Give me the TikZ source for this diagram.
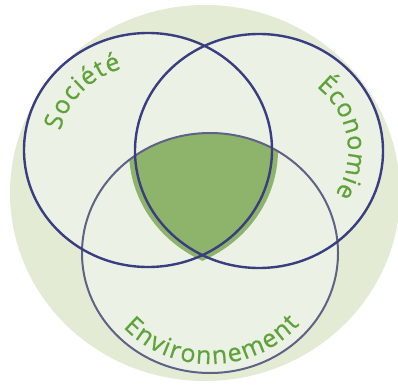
\documentclass[tikz,border=0pt]{standalone}
\usepackage{fontspec}
\setmainfont{Open Sans}
\newfontfamily\labelface[FakeBold=0.6]{Open Sans}
\usepackage{tikz}
\usetikzlibrary{calc, decorations.text}

\definecolor{sageback}{RGB}{227,235,213}
\definecolor{sagelight}{RGB}{236,241,229}
\definecolor{leafgreen}{RGB}{141,180,106}
\definecolor{labelgreen}{RGB}{96,162,58}
\definecolor{ringblue}{RGB}{58,62,128}
\definecolor{ringgrey}{RGB}{94,98,132}

\newcommand{\labelfont}{\labelface\fontsize{25}{30}\selectfont\color{labelgreen}}
% text bent along an elliptic arc: centre, start, end, x radius, y radius, text
\newcommand{\ArcLabel}[6]{
	\path[decorate, decoration={text along path, text align={fit to path}, text={|\labelfont|#6}}]
		($(#1)+(#2:#4 and #5)$) arc[start angle=#2, end angle=#3, x radius=#4, y radius=#5];
}

\begin{document}
\begin{tikzpicture}[x=1pt, y=1pt,
		ring/.style={line width=2.4pt, draw=ringblue},
		envring/.style={line width=2pt, draw=ringgrey}
	]

	\useasboundingbox (0,0) rectangle (398,386);

	\coordinate (O) at (205,193);
	\coordinate (S) at (148,236);
	\coordinate (C) at (259,235);
	\coordinate (E) at (210,133);

	% background disc
	\fill[sageback] (O) ellipse[x radius=195, y radius=188];
	\fill[sagelight] (S) ellipse[x radius=124, y radius=117];
	\fill[sagelight] (C) ellipse[x radius=124, y radius=117];
	\fill[sagelight] (E) ellipse[x radius=128, y radius=120];

	% common part of the three circles
	\begin{scope}
		\clip (E) ellipse[x radius=128, y radius=120];
		\clip (S) ellipse[x radius=130, y radius=122];
		\fill[leafgreen] (C) ellipse[x radius=130, y radius=122];
	\end{scope}

	\draw[envring] (E) ellipse[x radius=128, y radius=120];
	\draw[ring] (S) ellipse[x radius=124, y radius=117];
	\draw[ring] (C) ellipse[x radius=124, y radius=117];

	\ArcLabel{S}{167}{107}{90}{85}{Société}
	\ArcLabel{C}{50}{-31}{89}{84}{Économie}
	\ArcLabel{E}{222}{320}{117}{111}{Environnement}

\end{tikzpicture}
\end{document}
